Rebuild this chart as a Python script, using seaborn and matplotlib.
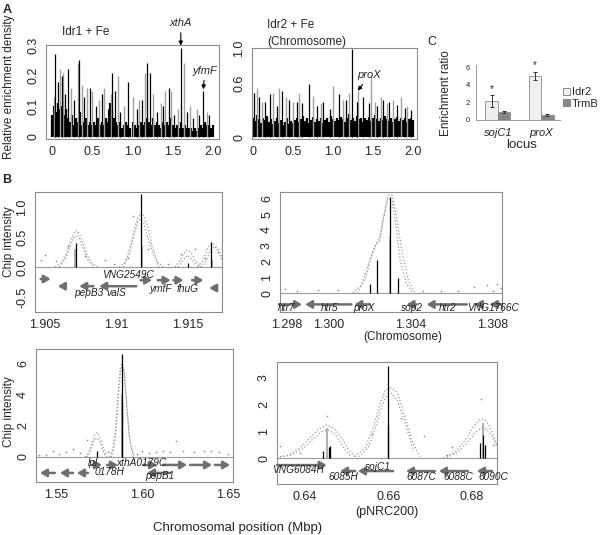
import numpy as np
import pandas as pd
import matplotlib.pyplot as plt
import seaborn as sns
from matplotlib.patches import Patch

# ------------------------------------------------------------
# Panel A : genome-wide relative enrichment density (Mbp)
# ------------------------------------------------------------
a_grid = np.linspace(0, 2.0, 81)
a1_dense = [0.07, 0.10, 0.08, 0.11, 0.09, 0.10, 0.07, 0.09, 0.06,
            0.05, 0.07, 0.04, 0.06, 0.05, 0.08, 0.04, 0.05, 0.06, 0.04, 0.05, 0.04,
            0.05, 0.04, 0.06, 0.04, 0.05, 0.04, 0.06, 0.05, 0.11, 0.09, 0.06, 0.05,
            0.04, 0.05, 0.03, 0.04, 0.05, 0.04, 0.03, 0.05, 0.04, 0.03, 0.04, 0.05,
            0.04, 0.05, 0.06, 0.05, 0.04, 0.06, 0.04, 0.05, 0.04, 0.03, 0.05, 0.04,
            0.05, 0.04, 0.06, 0.04, 0.03, 0.04, 0.03, 0.05, 0.03, 0.04, 0.03, 0.03,
            0.03, 0.02, 0.03, 0.02, 0.03, 0.04, 0.03, 0.05, 0.04, 0.04, 0.03, 0.04]
a1_black_pos = [0.04, 0.08, 0.12, 0.16, 0.20, 0.27, 0.34, 0.40, 0.47, 0.55, 0.62, 0.70,
                0.75, 0.78, 0.85, 0.95, 1.05, 1.12, 1.18, 1.22, 1.30, 1.38, 1.45, 1.52,
                1.60, 1.68, 1.75, 1.83, 1.88, 1.95]
a1_black_h = [0.27, 0.18, 0.20, 0.14, 0.22, 0.12, 0.25, 0.13, 0.16, 0.10, 0.14, 0.09,
              0.21, 0.15, 0.08, 0.18, 0.09, 0.12, 0.24, 0.21, 0.08, 0.10, 0.16, 0.07,
              0.29, 0.08, 0.06, 0.07, 0.15, 0.07]
a1_grey_pos = [0.02, 0.10, 0.14, 0.24, 0.32, 0.37, 0.44, 0.50, 0.58, 0.64, 0.73, 0.82,
               0.90, 1.00, 1.08, 1.15, 1.25, 1.35, 1.41, 1.48, 1.56, 1.64, 1.72, 1.80, 1.92]
a1_grey_h = [0.13, 0.22, 0.21, 0.16, 0.24, 0.17, 0.16, 0.15, 0.12, 0.16, 0.14, 0.20,
             0.10, 0.13, 0.12, 0.21, 0.14, 0.11, 0.15, 0.15, 0.09, 0.24, 0.10, 0.09, 0.08]

a2_dense = [0.22, 0.18, 0.25, 0.20, 0.16, 0.22, 0.19, 0.24, 0.17,
            0.20, 0.15, 0.18, 0.22, 0.16, 0.19, 0.14, 0.17, 0.21, 0.15, 0.18, 0.16,
            0.19, 0.22, 0.17, 0.20, 0.24, 0.18, 0.21, 0.16, 0.19, 0.23, 0.17, 0.20,
            0.18, 0.22, 0.16, 0.19, 0.21, 0.17, 0.24, 0.20, 0.18, 0.22, 0.19, 0.23,
            0.20, 0.17, 0.22, 0.26, 0.19, 0.21, 0.18, 0.24, 0.20, 0.22, 0.17, 0.21,
            0.19, 0.23, 0.18, 0.21, 0.25, 0.20, 0.18, 0.22, 0.19, 0.24, 0.20, 0.18,
            0.21, 0.17, 0.20, 0.23, 0.18, 0.22, 0.19, 0.21, 0.17, 0.20, 0.22, 0.19]
a2_black_pos = [0.02, 0.08, 0.15, 0.22, 0.30, 0.37, 0.45, 0.55, 0.62, 0.70, 0.80, 0.88,
                0.97, 1.08, 1.16, 1.24, 1.30, 1.38, 1.45, 1.55, 1.62, 1.70, 1.80, 1.90, 1.98]
a2_black_h = [0.50, 0.45, 0.40, 0.48, 0.35, 0.52, 0.42, 0.40, 0.38, 0.60, 0.35, 0.40,
              0.32, 0.48, 0.42, 0.99, 0.40, 0.45, 0.38, 0.35, 0.42, 0.40, 0.36, 0.33, 0.30]
a2_grey_pos = [0.05, 0.12, 0.25, 0.33, 0.42, 0.50, 0.58, 0.75, 0.85, 1.00, 1.12, 1.20,
               1.31, 1.47, 1.52, 1.60, 1.67, 1.75, 1.85, 1.93]
a2_grey_h = [0.55, 0.40, 0.50, 0.55, 0.45, 0.40, 0.50, 0.46, 0.38, 0.57, 0.42, 0.50,
             0.52, 0.70, 0.40, 0.45, 0.38, 0.42, 0.45, 0.35]

# ------------------------------------------------------------
# Panel C : enrichment ratio
# ------------------------------------------------------------
c_locus = ["sojC1", "proX"]
c_idr2 = [2.15, 5.0]
c_idr2_err = [0.65, 0.5]
c_trmb = [0.95, 0.6]
c_trmb_err = [0.1, 0.1]

# ------------------------------------------------------------
# Panel B : chip intensity tracks
# envelopes = (x, y) curves, spikes = (x, height), genes = (from, to, y)
# ------------------------------------------------------------
b1_env = [
    ([1.9057, 1.9061, 1.9065, 1.9068, 1.9071, 1.9073, 1.9076, 1.9079, 1.9083, 1.9087],
     [0, 0.06, 0.22, 0.45, 0.60, 0.60, 0.45, 0.22, 0.06, 0]),
    ([1.9060, 1.9064, 1.9067, 1.9070, 1.9072, 1.9074, 1.9077, 1.9080, 1.9084],
     [0, 0.12, 0.30, 0.48, 0.52, 0.48, 0.30, 0.12, 0]),
    ([1.9102, 1.9106, 1.9110, 1.9113, 1.9116, 1.9119, 1.9122, 1.9125, 1.9129, 1.9133],
     [0, 0.08, 0.35, 0.68, 0.86, 0.86, 0.68, 0.35, 0.08, 0]),
    ([1.9105, 1.9109, 1.9112, 1.9115, 1.9117, 1.9119, 1.9122, 1.9126, 1.9130],
     [0, 0.20, 0.50, 0.75, 0.80, 0.75, 0.50, 0.20, 0]),
    ([1.9141, 1.9145, 1.9148, 1.9150, 1.9152, 1.9155, 1.9159],
     [0, 0.12, 0.25, 0.28, 0.25, 0.12, 0]),
    ([1.9143, 1.9147, 1.9150, 1.9153, 1.9157], [0, 0.12, 0.20, 0.12, 0]),
    ([1.9157, 1.9161, 1.9164, 1.9167, 1.9170, 1.9174], [0, 0.12, 0.32, 0.40, 0.32, 0.12]),
    ([1.9159, 1.9163, 1.9166, 1.9169, 1.9172, 1.9175], [0, 0.10, 0.28, 0.34, 0.28, 0.10]),
]
b1_black = ([1.9072, 1.9117, 1.9150, 1.9166], [0.40, 1.22, 0.06, 0.42])
b1_grey = ([1.9071, 1.9118, 1.9167], [0.30, 0.35, 0.12])
b1_dots = ([1.9047, 1.9050, 1.9058, 1.9066, 1.9078, 1.9092, 1.9098, 1.9108, 1.9112,
            1.9122, 1.9136, 1.9145, 1.9155, 1.9162, 1.9171],
           [0.12, 0.20, 0.10, 0.35, 0.18, 0.12, 0.05, 0.15, 0.85, 0.30, 0.05, 0.22,
            0.30, 0.15, 0.25])
b1_genes = [(1.9047, 1.9054, -0.20), (1.9063, 1.9059, -0.32), (1.9084, 1.9074, -0.32),
            (1.9114, 1.9088, -0.32), (1.9117, 1.9125, -0.22), (1.9129, 1.9138, -0.22),
            (1.9140, 1.9147, -0.22), (1.9153, 1.9161, -0.22), (1.9170, 1.9165, -0.35)]
b1_names = [("pepB3", 1.9081, -0.43), ("valS", 1.9100, -0.43),
            ("VNG2549C", 1.9108, -0.14), ("ymfF", 1.9131, -0.36), ("fhuG", 1.9150, -0.36)]

b2_env = [
    ([1.3012, 1.3016, 1.3019, 1.3022, 1.3025, 1.3027, 1.3029, 1.3031, 1.3033, 1.3036,
      1.3039, 1.3042], [0, 0.5, 1.6, 2.8, 3.5, 4.9, 6.2, 6.2, 5.0, 2.5, 0.8, 0]),
    ([1.3014, 1.3018, 1.3021, 1.3023, 1.3025, 1.3027, 1.3029, 1.3031, 1.3033, 1.3035,
      1.3038, 1.3041], [0, 0.9, 2.3, 3.0, 3.3, 4.8, 6.0, 5.9, 4.2, 2.0, 0.6, 0]),
]
b2_black = ([1.30203, 1.30239, 1.30301, 1.30341], [0.55, 2.1, 6.1, 0.95])
b2_grey = ([1.30300], [3.6])
b2_dots = ([1.2979, 1.2985, 1.2995, 1.3005, 1.3046, 1.3055, 1.3063, 1.3071, 1.3077,
            1.3082, 1.3084, 1.3080],
           [0.25, 0.15, 0.20, 0.18, 0.10, 0.15, 0.12, 0.40, 0.50, 0.55, 0.30, 0.15])
b2_genes = [(1.29761, 1.29873, -0.72), (1.30112, 1.29888, -0.72), (1.30200, 1.30127, -0.72),
            (1.30429, 1.30380, -0.72), (1.30673, 1.30478, -0.72), (1.30751, 1.30712, -0.72),
            (1.30844, 1.30785, -0.72)]
b2_names = [("htr7", 1.29800, -0.92), ("htr5", 1.30005, -0.92), ("proX", 1.30176, -0.92),
            ("sop2", 1.30405, -0.92), ("htr2", 1.30580, -0.92), ("VNG1766C", 1.30800, -0.92)]

b3_env = [
    ([1.5669, 1.5683, 1.5697, 1.5710, 1.5725, 1.5738, 1.5751, 1.5765, 1.5780, 1.5797],
     [0, 0.15, 0.45, 0.95, 1.4, 1.55, 1.4, 0.95, 0.4, 0]),
    ([1.5678, 1.5692, 1.5706, 1.5720, 1.5738, 1.5755, 1.5770, 1.5788],
     [0, 0.2, 0.6, 1.05, 1.2, 1.0, 0.5, 0]),
    ([1.5812, 1.5830, 1.5845, 1.5858, 1.5872, 1.5884, 1.5896, 1.5910, 1.5924, 1.5942, 1.5960],
     [0, 0.4, 1.5, 3.6, 5.5, 6.05, 5.5, 3.6, 1.5, 0.4, 0]),
    ([1.5820, 1.5837, 1.5851, 1.5865, 1.5877, 1.5887, 1.5899, 1.5913, 1.5930, 1.5950],
     [0, 0.6, 2.0, 4.2, 5.6, 5.8, 5.2, 3.0, 1.0, 0]),
]
b3_black = ([1.5738, 1.5882, 1.5885], [0.4, 3.5, 6.6])
b3_grey = ([1.5884], [4.0])
b3_dots = ([1.5400, 1.5440, 1.5480, 1.5520, 1.5560, 1.5600, 1.5640, 1.5680, 1.5800,
            1.5970, 1.6000, 1.6040, 1.6080, 1.6120, 1.6160, 1.6200, 1.6240, 1.6300,
            1.6360, 1.6400, 1.6450, 1.6500],
           [0.15, 0.10, 0.35, 0.20, 0.30, 0.50, 0.25, 1.10, 0.30, 0.20, 0.35, 0.25,
            0.30, 0.40, 0.30, 1.05, 0.35, 0.30, 0.35, 0.40, 0.30, 0.20])
b3_genes = [(1.5494, 1.5407, -1.02), (1.5599, 1.5523, -1.02), (1.5686, 1.5622, -1.02),
            (1.5709, 1.5767, -0.51), (1.5797, 1.5860, -0.51), (1.6006, 1.6087, -0.51),
            (1.6163, 1.6029, -1.02), (1.6122, 1.6262, -0.51), (1.6279, 1.6407, -0.51),
            (1.6424, 1.6512, -0.51)]
b3_names = [("lpl", 1.5715, -0.40), ("0178H", 1.5814, -0.96), ("xthA0179C", 1.6000, -0.40),
            ("pepB1", 1.6105, -1.22)]

b4_env = [
    ([0.6333, 0.6360, 0.6390, 0.6415, 0.6435, 0.6452, 0.6470, 0.6490, 0.6505, 0.6520],
     [0.02, 0.12, 0.40, 0.80, 1.10, 1.22, 1.10, 0.70, 0.30, 0.05]),
    ([0.6333, 0.6365, 0.6395, 0.6420, 0.6440, 0.6455, 0.6472, 0.6490, 0.6510],
     [0.02, 0.10, 0.35, 0.72, 0.98, 1.04, 0.90, 0.45, 0.05]),
    ([0.6520, 0.6545, 0.6565, 0.6580, 0.6592, 0.6605, 0.6620, 0.6635, 0.6655, 0.6675],
     [0.05, 0.40, 1.20, 2.00, 2.50, 2.60, 2.45, 1.80, 0.70, 0.05]),
    ([0.6530, 0.6552, 0.6570, 0.6585, 0.6597, 0.6608, 0.6622, 0.6640, 0.6660],
     [0.05, 0.40, 1.20, 1.95, 2.35, 2.40, 2.10, 1.30, 0.25]),
    ([0.6731, 0.6760, 0.6785, 0.6805, 0.6820, 0.6830, 0.6842, 0.6855, 0.6860],
     [0.02, 0.22, 0.70, 1.20, 1.44, 1.44, 1.20, 0.70, 0.45]),
    ([0.6740, 0.6765, 0.6790, 0.6808, 0.6823, 0.6835, 0.6848, 0.6860],
     [0.02, 0.20, 0.60, 0.95, 1.12, 1.08, 0.80, 0.40]),
]
b4_black = ([0.6443, 0.6457, 0.6461, 0.6600, 0.6598, 0.6819, 0.6826, 0.6831],
            [0.25, 0.40, 0.45, 3.40, 1.20, 0.55, 0.85, 0.50])
b4_grey = ([0.6452, 0.6826], [1.1, 1.3])
b4_dots = ([0.6340, 0.6388, 0.6452, 0.6560, 0.6630, 0.6686, 0.6740, 0.6752, 0.6822, 0.6850],
           [0.45, 0.20, 1.55, 0.90, 1.50, 0.80, 0.10, 0.40, 2.20, 0.50])
b4_genes = [(0.6333, 0.6452, -0.26), (0.6520, 0.6484, -0.48), (0.6611, 0.6527, -0.48),
            (0.6711, 0.6642, -0.48), (0.6790, 0.6721, -0.48), (0.6848, 0.6812, -0.48)]
b4_names = [("VNG6084H", 0.6383, -0.45), ("6085H", 0.6491, -0.70), ("sojC1", 0.6575, -0.33),
            ("6087C", 0.6680, -0.70), ("6088C", 0.6767, -0.70), ("6090C", 0.6851, -0.70)]

# ------------------------------------------------------------
sns.set_style("white")
plt.rcParams['font.family'] = ['Liberation Sans', 'DejaVu Sans']

W, H = 600, 535
fig = plt.figure(figsize=(6, 5.35), dpi=100)


def place(l, t, r, b):
    return fig.add_axes([l / W, 1 - b / H, (r - l) / W, (b - t) / H])


def ftext(x, y, s, **kw):
    kw.setdefault('ha', 'center')
    fig.text(x / W, 1 - y / H, s, va='center', **kw)


def frame(ax, size=9):
    for sp in ax.spines.values():
        sp.set_color('#8c8c8c')
        sp.set_linewidth(0.8)
    ax.tick_params(direction='out', length=3, width=0.6, color='#777777',
                   labelsize=size, pad=2)
    ax.tick_params(axis='y', labelrotation=90)
    for t in ax.get_yticklabels():
        t.set_va('center')


def density(ax, dense, bpos, bh, gpos, gh):
    ax.vlines(a_grid, 0, dense, colors='black', lw=1.6)
    ax.vlines(gpos, 0, gh, colors='#a0a0a0', lw=1.0)
    ax.vlines(bpos, 0, bh, colors='black', lw=0.9)


def track(ax, env, black, grey, dots, genes, names):
    ax.axhline(0, color='#9a9a9a', lw=0.8, zorder=1)
    for xs, ys in env:
        sns.lineplot(x=xs, y=ys, ax=ax, color='#9b9b9b', lw=0.9, linestyle=':',
                     estimator=None, sort=False)
    ax.scatter(dots[0], dots[1], s=1.5, color='#8a8a8a', lw=0)
    ax.vlines(grey[0], 0, grey[1], colors='#a8a8a8', lw=1.3)
    ax.vlines(black[0], 0, black[1], colors='black', lw=0.9)
    for x0, x1, y in genes:
        ax.annotate("", xy=(x1, y), xytext=(x0, y), annotation_clip=False,
                    arrowprops=dict(arrowstyle="-|>,head_length=0.6,head_width=0.35",
                                    color='#6e6e6e', lw=1.8, mutation_scale=6.5,
                                    shrinkA=0, shrinkB=0))
    for name, x, y in names:
        ax.text(x, y, name, style='italic', fontsize=7.3, ha='center', va='center',
                color='#222222', clip_on=False)
    ax.set_xlabel('')
    ax.set_ylabel('')


# ---------------- A ----------------
axa1 = place(46, 45, 219, 139)
density(axa1, a1_dense, a1_black_pos, a1_black_h, a1_grey_pos, a1_grey_h)
axa1.set_xlim(-0.075, 2.075)
axa1.set_ylim(-0.007, 0.3)
axa1.set_xticks([0, 0.5, 1.0, 1.5, 2.0], ['0', '0.5', '1.0', '1.5', '2.0'])
axa1.set_yticks([0, 0.1, 0.2, 0.3], ['0', '0.1', '0.2', '0.3'])
frame(axa1)
axa1.annotate('xthA', xy=(1.6, 0.298), xytext=(1.6, 0.355), style='italic', fontsize=8,
              ha='center', va='bottom', annotation_clip=False,
              arrowprops=dict(arrowstyle='-|>', color='black', lw=0.8, mutation_scale=6,
                              shrinkA=1, shrinkB=0))
axa1.annotate('yfmF', xy=(1.88, 0.155), xytext=(1.9, 0.2), style='italic', fontsize=8,
              ha='center', va='bottom', annotation_clip=False,
              arrowprops=dict(arrowstyle='-|>', color='black', lw=0.8, mutation_scale=6,
                              shrinkA=1, shrinkB=0))

axa2 = place(252, 48, 417, 139)
density(axa2, a2_dense, a2_black_pos, a2_black_h, a2_grey_pos, a2_grey_h)
axa2.set_xlim(-0.01, 2.05)
axa2.set_ylim(-0.02, 1.0)
axa2.set_xticks([0, 0.5, 1.0, 1.5, 2.0], ['0', '0.5', '1.0', '1.5', '2.0'])
axa2.set_yticks([0, 0.6, 1.0], ['0', '0.6', '1.0'])
frame(axa2)
axa2.annotate('proX', xy=(1.31, 0.52), xytext=(1.31, 0.64), fontsize=8, style='italic',
              ha='left', va='bottom', annotation_clip=False,
              arrowprops=dict(arrowstyle='-|>', color='black', lw=0.8, mutation_scale=6,
                              shrinkA=1, shrinkB=0))

ftext(7, 10, 'A', fontsize=9, fontweight='bold')
ftext(86, 32, 'Idr1 + Fe', fontsize=8.5)
ftext(267, 25, 'Idr2 + Fe', fontsize=8.5, ha='left')
ftext(267, 42, '(Chromosome)', fontsize=8.5, ha='left')
ftext(9, 87, 'Relative enrichment density', fontsize=8.5, rotation=90)

# ---------------- C ----------------
axc = place(476, 65, 560, 120)
df_c = pd.DataFrame({'locus': c_locus * 2,
                     'ratio': c_idr2 + c_trmb,
                     'protein': ['Idr2'] * 2 + ['TrmB'] * 2})
pal = {'Idr2': '#efefef', 'TrmB': '#878787'}
sns.barplot(data=df_c, x='locus', y='ratio', hue='protein', palette=pal, width=0.58,
            edgecolor='#8a8a8a', linewidth=0.6, errorbar=None, legend=False, ax=axc)
for i, (cont, err) in enumerate(zip(axc.containers, [c_idr2_err, c_trmb_err])):
    xs = [b.get_x() + b.get_width() / 2 for b in cont]
    hs = [b.get_height() for b in cont]
    axc.errorbar(xs, hs, yerr=err, fmt='none', ecolor='#333333', elinewidth=0.7,
                 capsize=1.5, capthick=0.7)
    if i == 0:
        for x, h, e in zip(xs, hs, err):
            axc.text(x, h + e + 0.75, '*', ha='center', va='center', fontsize=7,
                     clip_on=False)
axc.set_xlim(-0.51, 1.44)
axc.set_ylim(0, 6.25)
axc.set_yticks([0, 2, 4, 6])
axc.set_xlabel('')
axc.set_ylabel('')
sns.despine(ax=axc)
for sp in ['left', 'bottom']:
    axc.spines[sp].set_color('#9a9a9a')
    axc.spines[sp].set_linewidth(0.7)
axc.tick_params(axis='y', length=3, width=0.6, color='#9a9a9a', labelsize=5.5, pad=1.5)
axc.tick_params(axis='x', length=0, labelsize=8, pad=6)
for t in axc.get_xticklabels():
    t.set_style('italic')
axc.legend(handles=[Patch(facecolor=pal['Idr2'], edgecolor='#777777', lw=0.6),
                    Patch(facecolor=pal['TrmB'], edgecolor='#777777', lw=0.6)],
           labels=['Idr2', 'TrmB'], loc='center left',
           bbox_to_anchor=(563 / W, 1 - 98 / H), bbox_transform=fig.transFigure,
           frameon=False, fontsize=8, handlelength=0.6, handleheight=0.6,
           handletextpad=0.2, labelspacing=0.15, borderaxespad=0, borderpad=0)
ftext(432, 42, 'C', fontsize=9)
ftext(446, 93, 'Enrichment ratio', fontsize=8.5, rotation=90)
ftext(522, 145, 'locus', fontsize=9.5)

# ---------------- B ----------------
axb1 = place(35, 192, 222, 312)
track(axb1, b1_env, b1_black, b1_grey, b1_dots, b1_genes, b1_names)
axb1.set_xlim(1.9043, 1.9174)
axb1.set_ylim(-0.75, 1.25)
axb1.set_xticks([1.905, 1.91, 1.915], ['1.905', '1.91', '1.915'])
axb1.set_yticks([-0.5, 0, 0.5, 1.0], ['-0.5', '0.0', '0.5', '1.0'])
frame(axb1)

axb2 = place(280, 192, 502, 312)
track(axb2, b2_env, b2_black, b2_grey, b2_dots, b2_genes, b2_names)
axb2.set_xlim(1.29766, 1.30844)
axb2.set_ylim(-1.2, 6.4)
axb2.set_xticks([1.298, 1.300, 1.304, 1.308], ['1.298', '1.300', '1.304', '1.308'])
axb2.set_yticks([0, 1, 2, 3, 4, 5, 6])
frame(axb2)

axb3 = place(36, 349, 233, 482)
track(axb3, b3_env, b3_black, b3_grey, b3_dots, b3_genes, b3_names)
axb3.set_xlim(1.5384, 1.6529)
axb3.set_ylim(-1.6, 6.9)
axb3.set_xticks([1.55, 1.60, 1.65], ['1.55', '1.60', '1.65'])
axb3.set_yticks([0, 2, 4, 6])
frame(axb3)

axb4 = place(277, 362, 497, 484)
track(axb4, b4_env, b4_black, b4_grey, b4_dots, b4_genes, b4_names)
axb4.set_xlim(0.6333, 0.686)
axb4.set_ylim(-0.96, 3.56)
axb4.set_xticks([0.64, 0.66, 0.68], ['0.64', '0.66', '0.68'])
axb4.set_yticks([0, 1, 2, 3])
frame(axb4)

ftext(7, 180, 'B', fontsize=9, fontweight='bold')
ftext(9, 242, 'Chip intensity', fontsize=8.5, rotation=90)
ftext(9, 412, 'Chip intensity', fontsize=8.5, rotation=90)
ftext(403, 337, '(Chromosome)', fontsize=8.5)
ftext(387, 512, '(pNRC200)', fontsize=9)
ftext(238, 528, 'Chromosomal position (Mbp)', fontsize=9.5)

fig.savefig('out.png', dpi=100)
